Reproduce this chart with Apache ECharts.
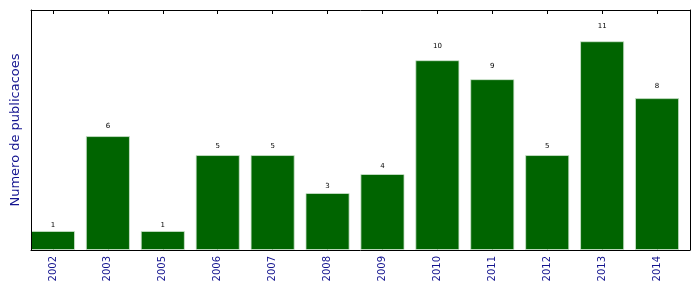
<!DOCTYPE html>
<html><head><meta charset="utf-8">
<script src="https://cdn.jsdelivr.net/npm/echarts@6/dist/echarts.min.js"></script>
<style>html,body{margin:0;padding:0;background:#fff}#c{width:699px;height:292px}</style>
</head><body><div id="c"></div>
<script>
var years = ['2002','2003','2005','2006','2007','2008','2009','2010','2011','2012','2013','2014'];
var counts = [1, 6, 1, 5, 5, 3, 4, 10, 9, 5, 11, 8];
var yMax = 12.65;
var yName = 'Numero de publicacoes';

var chart = echarts.init(document.getElementById('c'));
var plotLeft = 31, plotTop = 10, plotW = 659, plotH = 240;
var step = plotW / years.length;
var pxPerUnit = plotH / yMax;
var font = 'DejaVu Sans';
var barData = counts.map(function (v) {
  return {value: v, label: {distance: 1 + 0.05 * v * pxPerUnit}};
});
chart.setOption({
  animation: false,
  backgroundColor: '#fff',
  grid: [
    {left: plotLeft - 0.1 * step, top: plotTop, width: plotW, height: plotH},
    {left: plotLeft, top: plotTop, width: plotW, height: plotH}
  ],
  xAxis: [
    {type: 'category', gridIndex: 0, position: 'bottom', data: years,
     axisLine: {show: false},
     axisTick: {show: true, inside: true, length: 4, alignWithLabel: true, lineStyle: {color: '#000'}},
     axisLabel: {rotate: 90, color: '#14148f', fontSize: 10, fontFamily: font, margin: 6, interval: 0},
     splitLine: {show: false}},
    {type: 'category', gridIndex: 0, position: 'top', data: years,
     axisLine: {show: false},
     axisTick: {show: true, inside: true, length: 4, alignWithLabel: true, lineStyle: {color: '#000'}},
     axisLabel: {show: false}, splitLine: {show: false}},
    {type: 'value', gridIndex: 1, position: 'bottom', min: 0, max: 1, z: 10,
     axisLine: {show: true, lineStyle: {color: '#000', width: 1}},
     axisTick: {show: false}, axisLabel: {show: false}, splitLine: {show: false}},
    {type: 'value', gridIndex: 1, position: 'top', min: 0, max: 1, z: 10,
     axisLine: {show: true, onZero: false, lineStyle: {color: '#000', width: 1}},
     axisTick: {show: false}, axisLabel: {show: false}, splitLine: {show: false}}
  ],
  yAxis: [
    {type: 'value', gridIndex: 0, min: 0, max: yMax,
     axisLine: {show: false}, axisTick: {show: false}, axisLabel: {show: false}, splitLine: {show: false}},
    {type: 'value', gridIndex: 1, position: 'left', min: 0, max: 1, z: 10,
     name: yName, nameLocation: 'middle', nameGap: 9,
     nameTextStyle: {color: '#14148f', fontSize: 13, fontFamily: font},
     axisLine: {show: true, onZero: false, lineStyle: {color: '#000', width: 1}},
     axisTick: {show: false}, axisLabel: {show: false}, splitLine: {show: false}},
    {type: 'value', gridIndex: 1, position: 'right', min: 0, max: 1, z: 10,
     axisLine: {show: true, onZero: false, lineStyle: {color: '#000', width: 1}},
     axisTick: {show: false}, axisLabel: {show: false}, splitLine: {show: false}}
  ],
  series: [{
    type: 'bar', xAxisIndex: 0, yAxisIndex: 0, data: barData,
    barWidth: '80%',
    itemStyle: {color: '#006400', borderColor: '#cfe5cf', borderWidth: 0.8},
    label: {show: true, position: 'top', color: '#000', fontSize: 7, fontFamily: font}
  }]
});
</script></body></html>
